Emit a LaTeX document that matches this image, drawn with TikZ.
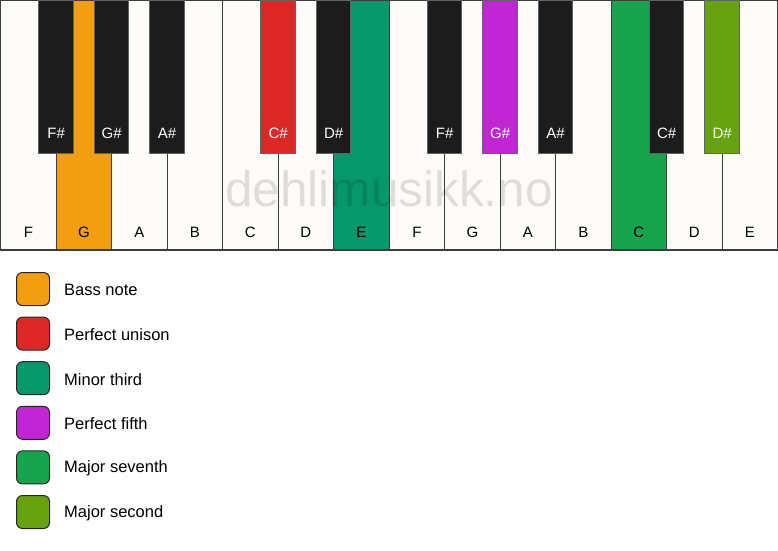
\documentclass[tikz,border=0pt]{standalone}
\usepackage{fontspec}
\setmainfont{Liberation Sans}
\definecolor{bass}{RGB}{243,157,16}
\definecolor{unison}{RGB}{222,39,39}
\definecolor{minthird}{RGB}{6,151,106}
\definecolor{fifth}{RGB}{193,38,212}
\definecolor{majseventh}{RGB}{24,164,76}
\definecolor{majsecond}{RGB}{102,163,14}
\definecolor{ivory}{RGB}{253,252,249}
\definecolor{ebony}{RGB}{28,28,28}
\definecolor{keyline}{RGB}{60,60,60}
\tikzset{
  whitekey/.style={draw=keyline, line width=1.1pt, fill=ivory, rectangle, anchor=north west, minimum width=55.5pt, minimum height=249.5pt, inner sep=0pt, outer sep=0pt},
  blackkey/.style={draw=keyline!80, line width=0.9pt, fill=ebony, rectangle, anchor=north, minimum width=34.5pt, minimum height=153pt, inner sep=0pt, outer sep=0pt},
  wlabel/.style={anchor=base, font=\fontsize{15}{18}\selectfont, text=black},
  blabel/.style={anchor=base, font=\fontsize{15}{18}\selectfont, text=white},
  swatch/.style={draw=black!85, line width=1pt, rounded corners=6pt, minimum size=33pt, inner sep=0pt},
  legtext/.style={anchor=west, font=\fontsize{16.5}{19}\selectfont, inner sep=0pt},
}
\begin{document}
\begin{tikzpicture}[x=1pt,y=-1pt]
\useasboundingbox (0,0) rectangle (778,550);
\fill[white] (0,0) rectangle (778,550);
% white keys
\foreach \i/\n/\c in {0/F/ivory,1/G/bass,2/A/ivory,3/B/ivory,4/C/ivory,5/D/ivory,6/E/minthird,7/F2/ivory,8/G2/ivory,9/A2/ivory,10/B2/ivory,11/C2/majseventh,12/D2/ivory,13/E2/ivory}{
  \node[whitekey, fill=\c] (w\n) at (0.6+\i*55.5,0.5) {};
}
\foreach \n/\t in {F/F,G/G,A/A,B/B,C/C,D/D,E/E,F2/F,G2/G,A2/A,B2/B,C2/C,D2/D,E2/E}{
  \node[wlabel] (lw\n) at ([yshift=12.5pt]w\n.south) {\t};
}
% watermark
\node[anchor=base, font=\fontsize{49.5}{52}\selectfont, text=black, text opacity=0.12] (wm) at (389,206) {dehlimusikk.no};
% black keys
\foreach \b/\x/\c/\t in {Fs/1/ebony/F\#,Gs/2/ebony/G\#,As/3/ebony/A\#,Cs/5/unison/C\#,Ds/6/ebony/D\#,Fs2/8/ebony/F\#,Gs2/9/fifth/G\#,As2/10/ebony/A\#,Cs2/12/ebony/C\#,Ds2/13/majsecond/D\#}{
  \node[blackkey, fill=\c] (b\b) at (0.6+\x*55.5,0) {};
  \node[blabel] (lb\b) at ([yshift=14.5pt]b\b.south) {\t};
}
% legend
\foreach \k/\c/\t [count=\j from 0] in {1/bass/Bass note,2/unison/Perfect unison,3/minthird/Minor third,4/fifth/Perfect fifth,5/majseventh/Major seventh,6/majsecond/Major second}{
  \node[swatch, fill=\c] (s\k) at (33,289+\j*44.6) {};
  \node[legtext] (t\k) at (64,290+\j*44.6) {\t};
}
\end{tikzpicture}
\end{document}
